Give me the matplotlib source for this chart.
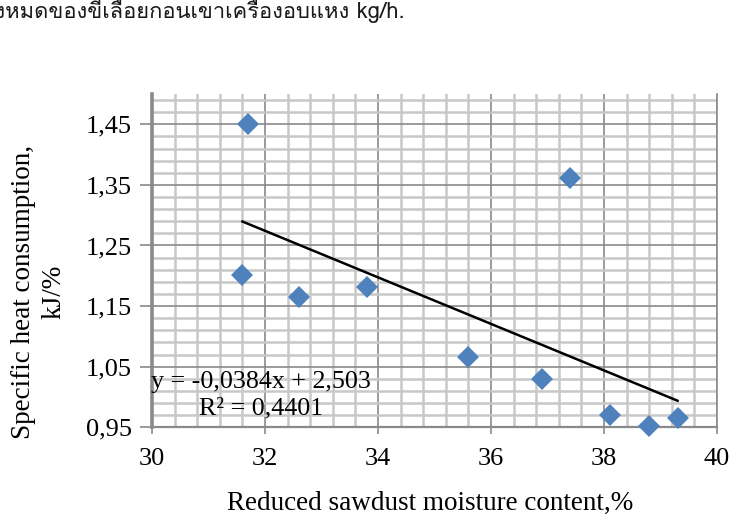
import numpy as np
import matplotlib
matplotlib.use('Agg')
import matplotlib.pyplot as plt
from matplotlib import font_manager
from matplotlib.ft2font import FT2Font

# moisture content of the sawdust after drying (%) and specific heat use (kJ/%)
moisture = [31.7, 31.6, 32.6, 33.8, 35.6, 36.9, 37.4, 38.1, 38.8, 39.3]
heat = [1.450, 1.202, 1.165, 1.182, 1.066, 1.029, 1.362, 0.970, 0.952, 0.966]

# linear trend fitted in the spreadsheet
slope = -0.0384
intercept = 2.503
r_squared = 0.4401

x_ticks = [30, 32, 34, 36, 38, 40]
y_ticks = [0.95, 1.05, 1.15, 1.25, 1.35, 1.45]

page_line = 'ทั้งหมดของขี้เลื่อยก่อนเข้าเครื่องอบแห้ง kg/h.'


def thai_family():
    """first installed family that has Thai glyphs, or None"""
    for entry in font_manager.fontManager.ttflist:
        try:
            if ord('ก') in FT2Font(entry.fname).get_charmap():
                return entry.name
        except Exception:
            continue
    return None


plt.rcParams['font.family'] = 'Liberation Serif'

fig = plt.figure(figsize=(7.32, 5.15), dpi=100)
ax = fig.add_axes([0.2077, 0.1703, 0.7719, 0.6472])

ax.set_xlim(30, 40)
ax.set_ylim(0.95, 1.50)
ax.set_xticks(x_ticks)
ax.set_xticks(np.arange(30, 40.01, 0.4), minor=True)
ax.set_yticks(y_ticks)
ax.set_yticks(np.arange(0.95, 1.499, 0.02), minor=True)
ax.set_xticklabels([str(v) for v in x_ticks])
ax.set_yticklabels([f'{v:.2f}'.replace('.', ',') for v in y_ticks])

# excel-style grid: light minor lines, darker major lines
ax.set_axisbelow(True)
ax.grid(which='minor', color='#c8c8c8', lw=1.8)
ax.grid(which='major', color='#8a8a8a', lw=1.2)

ax.spines['top'].set_visible(False)
ax.spines['left'].set_color('#8a8a8a')
ax.spines['left'].set_linewidth(2.6)
ax.spines['bottom'].set_color('#8a8a8a')
ax.spines['bottom'].set_linewidth(1.6)
ax.spines['right'].set_color('#8a8a8a')
ax.spines['right'].set_linewidth(1.2)

ax.tick_params(which='minor', length=0)
ax.tick_params(axis='y', which='major', length=8.5, width=1.2, color='#8a8a8a',
               pad=6, labelsize=19)
ax.tick_params(axis='x', which='major', length=5, width=1.2, color='#8a8a8a',
               pad=10, labelsize=19)

ax.plot(moisture, heat, linestyle='', marker='D', ms=11.5, mew=0,
        color='#4f81bd', zorder=3, clip_on=False)

trend_x = np.array([min(moisture), max(moisture)])
ax.plot(trend_x, slope * trend_x + intercept, color='black', lw=1.8, zorder=4)

eq = f'y = {slope:.4f}x + {intercept:.3f}'.replace('.', ',')
r2 = f'R² = {r_squared:.4f}'.replace('.', ',')
ax.text(31.93, 1.0025, eq + '\n' + r2, ha='center', va='center',
        fontsize=18.7, linespacing=1.27, zorder=5)

fig.text(0.587, 0.0097, 'Reduced sawdust moisture content,%',
         ha='center', va='baseline', fontsize=19.5)
fig.text(0.053, 0.433, 'Specific heat consumption,\nkJ/%', rotation=90,
         ha='center', va='center', multialignment='center', fontsize=19.5,
         linespacing=1.3)

# the running text of the page above the chart, cut off at the top edge
thai = thai_family()
if thai is not None:
    fig.text(-0.028, 0.965, page_line, family=[thai, 'DejaVu Sans'],
             fontsize=15.8, color='#1a1a1a', va='baseline')

fig.savefig('out.png', dpi=100)
